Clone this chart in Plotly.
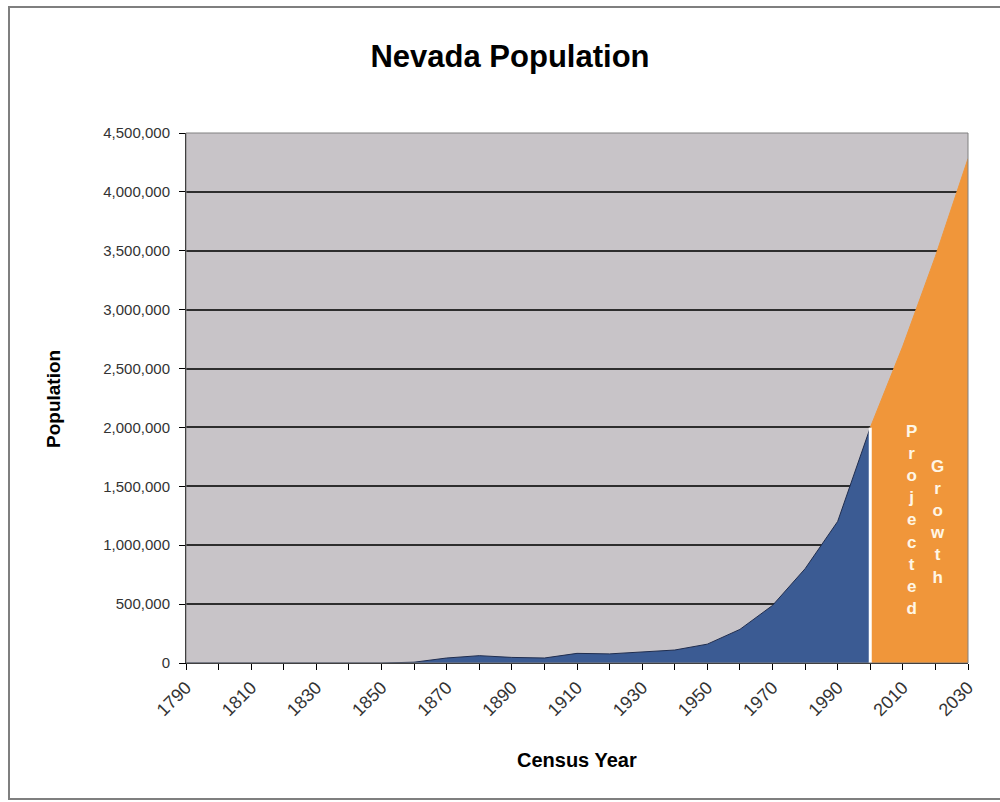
import plotly.graph_objects as go

# ---- data ----
years_actual = [1790, 1800, 1810, 1820, 1830, 1840, 1850, 1860, 1870, 1880, 1890,
                1900, 1910, 1920, 1930, 1940, 1950, 1960, 1970, 1980, 1990, 2000]
pop_actual = [0, 0, 0, 0, 0, 0, 0, 6857, 42491, 62266, 47355,
              42335, 81875, 77407, 91058, 110247, 160083, 285278, 488738, 800493, 1201833, 1998257]
years_proj = [2000, 2010, 2020, 2030]
pop_proj = [1998257, 2690531, 3452283, 4282102]
y_ticks = [0, 500000, 1000000, 1500000, 2000000, 2500000, 3000000, 3500000, 4000000, 4500000]

FONT = "Liberation Sans, Arial, sans-serif"

fig = go.Figure()

fig.add_trace(go.Scatter(
    x=years_proj, y=pop_proj, mode="lines", fill="tozeroy",
    fillcolor="#F0963A", line=dict(color="#F0963A", width=1), hoverinfo="skip"))

fig.add_trace(go.Scatter(
    x=years_actual, y=pop_actual, mode="lines", fill="tozeroy",
    fillcolor="#3B5B93", line=dict(color="#1F2D4F", width=1), hoverinfo="skip"))

# white divider at last actual census year
fig.add_trace(go.Scatter(
    x=[years_actual[-1], years_actual[-1]], y=[0, pop_actual[-1]], mode="lines",
    line=dict(color="white", width=3), hoverinfo="skip"))

fig.update_layout(
    width=1000, height=802,
    margin=dict(l=186, r=32, t=133, b=139),
    paper_bgcolor="white", plot_bgcolor="#C8C4C8",
    showlegend=False,
    font=dict(family=FONT, color="#222222"),
    title=dict(text="<b>Nevada Population</b>", x=0.51, xref="container", xanchor="center",
               y=1 - 56 / 802, yref="container", yanchor="middle",
               font=dict(family=FONT, size=31, color="#000000")),
)

fig.update_xaxes(
    range=[1790, 2030], tick0=1790, dtick=20, tickangle=-45,
    showgrid=False, zeroline=False,
    showline=True, linecolor="#000000", linewidth=1,
    ticks="outside", ticklen=6, tickcolor="#000000",
    tickfont=dict(family=FONT, size=18, color="#333333"),
    minor=dict(dtick=10, tick0=1790, ticks="outside", ticklen=6, tickcolor="#000000", showgrid=False),
)

fig.update_yaxes(
    range=[0, 4500000], tickvals=y_ticks, tickformat=",d",
    showgrid=True, gridcolor="#2E2E2E", gridwidth=1.5,
    zeroline=False,
    showline=True, linecolor="#000000", linewidth=1,
    ticks="outside", ticklen=6, tickcolor="#000000",
    ticklabelstandoff=6,
    tickfont=dict(family=FONT, size=15, color="#333333"),
)

fig.add_annotation(text="<b>Population</b>", xref="paper", yref="paper",
                   x=(53 - 186) / 782, y=(663 - 399) / 530, xanchor="center", yanchor="middle",
                   textangle=-90, showarrow=False,
                   font=dict(family=FONT, size=19, color="#000000"))
fig.add_annotation(text="<b>Census Year</b>", xref="paper", yref="paper",
                   x=(577 - 186) / 782, y=(663 - 760) / 530, xanchor="center", yanchor="middle",
                   showarrow=False,
                   font=dict(family=FONT, size=20, color="#000000"))

fig.add_annotation(text="<br>".join("Projected"), x=2012.8, y=1214000, showarrow=False,
                   font=dict(family=FONT, size=17, color="#FFF6E6", weight="bold"), align="center")
fig.add_annotation(text="<br>".join("Growth"), x=2020.5, y=1197000, showarrow=False,
                   font=dict(family=FONT, size=17, color="#FFF6E6", weight="bold"), align="center")

# plot-area border and outer chart frame
fig.add_shape(type="rect", xref="paper", yref="paper", x0=0, x1=1, y0=0, y1=1,
              line=dict(color="#808080", width=1), layer="above")
fig.add_shape(type="rect", xref="paper", yref="paper",
              x0=(9 - 186) / 782, x1=(1010 - 186) / 782,
              y0=(663 - 799) / 530, y1=(663 - 7) / 530,
              line=dict(color="#7F7F7F", width=2), layer="below")

fig.write_html("out.html")
